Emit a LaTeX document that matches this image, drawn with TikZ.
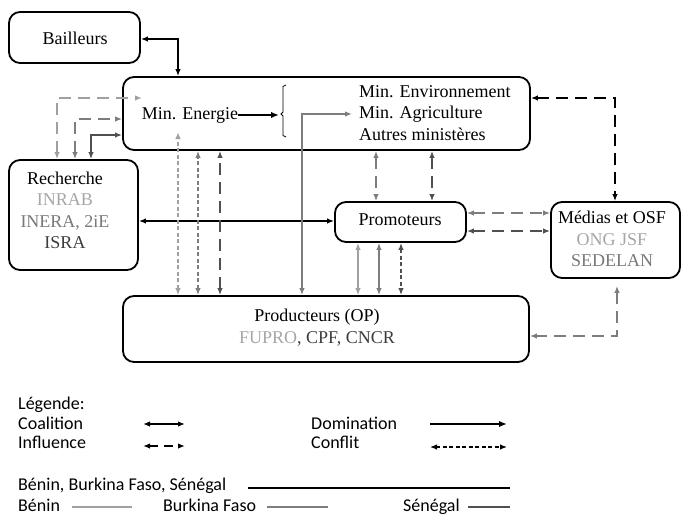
\documentclass[tikz,border=0pt]{standalone}
\usepackage{fontspec}
\setmainfont{Liberation Serif}
\newfontfamily\legfont{Carlito}
\usetikzlibrary{arrows.meta}
\definecolor{cB}{RGB}{160,160,160}
\definecolor{cF}{RGB}{125,125,125}
\definecolor{cS}{RGB}{80,80,80}
\definecolor{tB}{RGB}{166,166,166}
\definecolor{tF}{RGB}{120,120,120}
\definecolor{tS}{RGB}{60,60,60}
\begin{document}
\begin{tikzpicture}[x=1pt,y=-1pt,
  box/.style={draw, line width=1.8pt, rounded corners=11pt, inner sep=0pt},
  txt/.style={font=\fontsize{18}{21.5}\selectfont, inner sep=0pt, align=center},
  leg/.style={font=\legfont\fontsize{18}{21}\selectfont, inner sep=0pt, anchor=base west},
  ln/.style={line width=1.6pt},
  tipboth/.style={{Latex[length=7pt,width=5.5pt]}-{Latex[length=7pt,width=5.5pt]}},
  coal/.style={ln, tipboth},
  infl/.style={ln, tipboth, dash pattern=on 12pt off 7pt},
  confl/.style={ln, tipboth, dash pattern=on 4pt off 2.5pt},
  domi/.style={line width=2.2pt, -{Latex[length=8pt,width=6.5pt]}},
]
\useasboundingbox (0,0) rectangle (681,517);
% boxes
\node[box, minimum width=131pt, minimum height=51pt] (bail) at (74.5,37.5) {};
\node[box, minimum width=407pt, minimum height=73pt] (mini) at (326.5,113.5) {};
\node[box, minimum width=129pt, minimum height=110pt] (rech) at (73.5,215) {};
\node[box, minimum width=131pt, minimum height=40pt] (prom) at (400.5,222) {};
\node[box, minimum width=129pt, minimum height=76pt] (med) at (615.5,240) {};
\node[box, minimum width=406pt, minimum height=66pt] (prod) at (326,329) {};
% texts
\node[txt] (bailT) at (75,38) {Bailleurs};
\node[txt] (ener) at (190,115) {Min. Energie};
\node[txt, align=left, anchor=west] (autres) at (359,113) {Min. Environnement\\Min. Agriculture\\Autres ministères};
\node[txt] (rechT) at (65,210.5) {Recherche\\\textcolor{tB}{INRAB}\\\textcolor{tF}{INERA, 2iE}\\\textcolor{tS}{ISRA}};
\node[txt] (promT) at (400,220) {Promoteurs};
\node[txt] (medT) at (612,239) {Médias et OSF\\\textcolor{tB}{ONG JSF}\\\textcolor{tF}{SEDELAN}};
\node[txt] (prodT) at (317,327.5) {Producteurs (OP)\\\textcolor{tB}{FUPRO}\textcolor{tS}{, CPF, CNCR}};
% guide coordinates
\coordinate (X57) at (57,0);  \coordinate (X75) at (75,0);  \coordinate (X91) at (91,0);
\coordinate (X178) at (178,0); \coordinate (X198) at (198,0); \coordinate (X220) at (220,0);
\coordinate (X302) at (302,0); \coordinate (X358) at (358,0); \coordinate (X379) at (379,0);
\coordinate (X401) at (401,0); \coordinate (X376) at (376,0); \coordinate (X432) at (432,0);
\coordinate (X615) at (615,0); \coordinate (X617) at (617,0);
\coordinate (Y39) at (0,39); \coordinate (Y98) at (0,98); \coordinate (Y119) at (0,119);
\coordinate (Y135) at (0,135); \coordinate (Y213) at (0,213); \coordinate (Y231) at (0,231);
\coordinate (Y221) at (0,221); \coordinate (Y336) at (0,336);
\coordinate (t57) at (142,98);
\coordinate (e178) at (178,132);
\coordinate (a352) at (352,114);
\coordinate (brk) at (279,115);
% bracket
\draw[line width=0.8pt] (286,85) -- (283,86.5) -- (283,112) -- (281,114) -- (283,116) -- (283,135.5) -- (286,137);
% Bailleurs <-> Ministeres
\draw[coal, line width=2pt] (bail.east |- Y39) -| (mini.north -| X178);
% Energie -> others
\draw[domi] (ener.east) -- (brk);
% Recherche -> Ministeres
\draw[infl, cB] (rech.north -| X57) |- (t57);
\draw[infl, cF] (rech.north -| X75) |- (mini.west |- Y119);
\draw[coal, cS] (rech.north -| X91) |- (mini.west |- Y135);
% Recherche <-> Promoteurs
\draw[coal, black, line width=2pt] (rech.east |- Y221) -- (prom.west |- Y221);
% Ministeres <-> Producteurs
\draw[confl, cB] (prod.north -| X178) -- (e178);
\draw[confl, cF] (prod.north -| X198) -- (mini.south -| X198);
\draw[infl, cS] (prod.north -| X220) -- (mini.south -| X220);
\draw[coal, cF] (prod.north -| X302) |- (a352);
% Ministeres <-> Promoteurs
\draw[infl, cF] (mini.south -| X376) -- (prom.north -| X376);
\draw[infl, cS] (mini.south -| X432) -- (prom.north -| X432);
% Promoteurs <-> Producteurs
\draw[coal, cB] (prom.south -| X358) -- (prod.north -| X358);
\draw[coal, cF] (prom.south -| X379) -- (prod.north -| X379);
\draw[confl, cS] (prom.south -| X401) -- (prod.north -| X401);
% Promoteurs <-> Medias
\draw[infl, cF] (prom.east |- Y213) -- (med.west |- Y213);
\draw[infl, cS] (prom.east |- Y231) -- (med.west |- Y231);
% Ministeres <-> Medias
\draw[infl, black, line width=2pt] (mini.east |- Y98) -| (med.north -| X615);
% Medias <-> Producteurs
\draw[infl, cF, shorten <=7pt] (med.south -| X617) |- (prod.east |- Y336);
% legend
\node[leg] (lg0) at (18,409) {Légende:};
\node[leg] (lg1) at (18,429) {Coalition};
\node[leg] (lg2) at (18,448) {Influence};
\node[leg] (lg3) at (311,429) {Domination};
\node[leg] (lg4) at (311,448) {Conflit};
\coordinate (c1a) at (143,424); \coordinate (c1b) at (185,424);
\coordinate (c2a) at (143,446); \coordinate (c2b) at (185,446);
\coordinate (c3a) at (430,424); \coordinate (c3b) at (507,424);
\coordinate (c4a) at (430,447); \coordinate (c4b) at (507,447);
\draw[coal, black] (c1a) -- (c1b);
\draw[ln, tipboth, dash pattern=on 9pt off 6pt, black] (c2a) -- (c2b);
\draw[domi] (c3a) -- (c3b);
\draw[line width=1.2pt, tipboth, dash pattern=on 4pt off 2.5pt, black] (c4a) -- (c4b);
\node[leg] (lg5) at (18,490) {Bénin, Burkina Faso, Sénégal};
\node[leg] (lg6) at (18,511) {Bénin};
\node[leg] (lg7) at (163,511) {Burkina Faso};
\node[leg] (lg8) at (403,511) {Sénégal};
\coordinate (l1a) at (248,488); \coordinate (l1b) at (510,488);
\coordinate (l2a) at (72,507); \coordinate (l2b) at (132,507);
\coordinate (l3a) at (267,507); \coordinate (l3b) at (328,507);
\coordinate (l4a) at (468,507); \coordinate (l4b) at (510,507);
\draw[line width=2.2pt, black] (l1a) -- (l1b);
\draw[line width=1.5pt, cB] (l2a) -- (l2b);
\draw[line width=1.5pt, cF] (l3a) -- (l3b);
\draw[line width=1.5pt, cS] (l4a) -- (l4b);
\end{tikzpicture}
\end{document}
